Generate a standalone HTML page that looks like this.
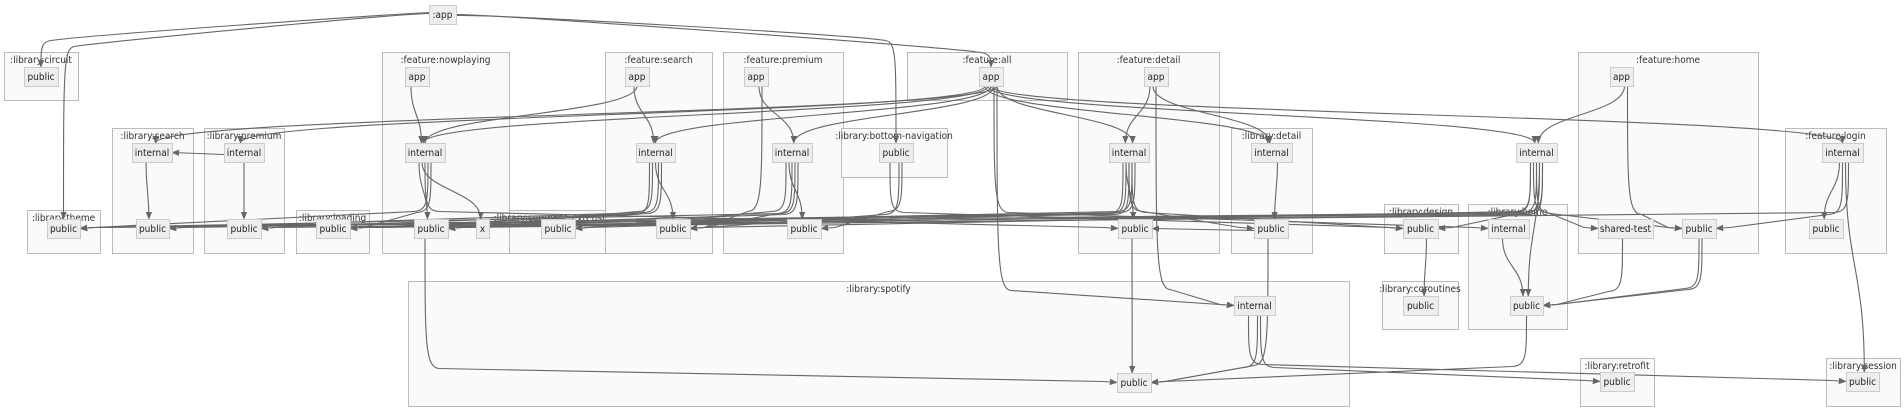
<!DOCTYPE html>
<html><head><meta charset="utf-8">
<style>
html,body{margin:0;padding:0;background:#fff;}
svg{display:block;font-family:"DejaVu Sans Condensed","Liberation Sans",sans-serif;}
.cl{fill:#fafafa;stroke:#bbb;stroke-width:1;}
.ct{font-size:10px;fill:#333;text-anchor:middle;}
.nd{fill:#eee;stroke:#ccc;stroke-width:1;}
.nt{font-size:10px;fill:#222;text-anchor:middle;dominant-baseline:central;}
.ed{fill:none;stroke:#666;stroke-width:1.1;}
</style></head>
<body>
<svg id="g" width="1904" height="411" viewBox="0 0 1904 411">
<defs><marker id="ar" viewBox="0 0 10 10" refX="9" refY="5" markerWidth="8" markerHeight="8" markerUnits="userSpaceOnUse" orient="auto-start-reverse"><path d="M0,1 L10,5 L0,9 z" fill="#666"/></marker></defs>
<g id="clusters"></g><g id="edges"></g><g id="nodes"></g>
</svg>
<script>
const clusters = [
 ["library-circuit",":library:circuit",4,52,78,100],
 ["feature-nowplaying",":feature:nowplaying",382,52,509,253],
 ["library-search",":library:search",112,128,193,253],
 ["library-premium",":library:premium",204,128,284,253],
 ["library-theme",":library:theme",27,210,100,253],
 ["library-loading",":library:loading",296,210,369,253],
 ["library-compose-extensions",":library:compose-extensions",509,210,605,253],
 ["feature-search",":feature:search",605,52,712,253],
 ["feature-premium",":feature:premium",723,52,843,253],
 ["library-bottom-navigation",":library:bottom-navigation",841,128,947,177],
 ["feature-all",":feature:all",907,52,1067,100],
 ["feature-detail",":feature:detail",1078,52,1219,253],
 ["library-detail",":library:detail",1231,128,1312,253],
 ["feature-home",":feature:home",1578,52,1758,253],
 ["feature-login",":feature:login",1785,128,1886,253],
 ["library-design",":library:design",1384,204,1458,253],
 ["library-home",":library:home",1468,204,1567,329],
 ["library-coroutines",":library:coroutines",1382,281,1458,329],
 ["library-spotify",":library:spotify",408,281,1349,406],
 ["library-retrofit",":library:retrofit",1580,358,1654,406],
 ["library-session",":library:session",1826,358,1900,406]
];
const nodes = [
 ["app",":app",429,456,5],
 ["circ","public",24,58,67],
 ["npA","app",405,429,67],["npI","internal",405,445,143],["npP","public",414,448,219],["npX","x",476,489,219],
 ["lsI","internal",132,172,143],["lsP","public",136,169,219],
 ["lpI","internal",224,264,143],["lpP","public",227,261,219],
 ["thP","public",47,80,219],["loP","public",316,350,219],["ceP","public",541,575,219],
 ["fsA","app",625,649,67],["fsI","internal",636,675,143],["fsP","public",656,690,219],
 ["fpA","app",744,768,67],["fpI","internal",772,812,143],["fpP","public",787,821,219],
 ["bnP","public",879,913,143],
 ["faA","app",979,1003,67],
 ["fdA","app",1144,1168,67],["fdI","internal",1109,1149,143],["fdP","public",1118,1152,219],
 ["ldI","internal",1251,1292,143],["ldP","public",1254,1288,219],
 ["fhA","app",1610,1633,67],["fhI","internal",1516,1557,143],["st","shared-test",1598,1653,219],["fhP","public",1682,1716,219],
 ["flI","internal",1822,1863,143],["flP","public",1809,1843,219],
 ["dsP","public",1403,1438,219],
 ["lhI","internal",1488,1529,219],["lhP","public",1510,1543,296],
 ["coP","public",1403,1438,296],
 ["spI","internal",1234,1275,296],["spP","public",1117,1151,373],
 ["rfP","public",1600,1634,372],["seP","public",1846,1879,372]
];
const edgeFrom = ["app","app","app","app",
 "faA","faA","faA","faA","faA","faA","faA","faA","faA","faA","faA",
 "fdA","fdA","fdA","fhA","fhA","npA","fsA","fsA","fpA","fpA",
 "lsI","lpI","lpI",
 "npI","npI","npI","npI","npI",
 "fsI","fsI","fsI","fsI","fsI",
 "fpI","fpI","fpI","fpI","fpI",
 "bnP","bnP","bnP",
 "fdI","fdI","fdI","fdI","fdI","fdI","fdI","fdI",
 "ldI","ldP","ldP",
 "fhI","fhI","fhI","fhI","fhI","fhI","fhI","fhI","fhI",
 "flI","flI","flI","flI",
 "lhI","st","fhP","fhP","dsP",
 "npP","fdP","lhP","spI","spI","spI"];
const edgeTo = ["circ","thP","faA","bnP",
 "lsI","lpI","npI","fsI","fpI","fdI","ldI","fhI","flI","lhI","spI",
 "fdI","ldI","spI","fhI","fhP","npI","fsI","npI","fpI","fsP",
 "lsP","lsI","lpP",
 "thP","loP","npP","npX","fdP",
 "lsP","lpP","loP","npP","fsP",
 "thP","loP","ceP","fpP","fsP",
 "fsP","fpP","dsP",
 "thP","lsP","loP","npP","ceP","fdP","ldP","dsP",
 "ldP","fdP","spP",
 "thP","lpP","npP","fsP","st","fhP","lhP","dsP","loP",
 "flP","fhP","seP","loP",
 "lhP","lhP","lhP","lhP","coP",
 "spP","spP","spP","spP","rfP","seP"];

const NS="http://www.w3.org/2000/svg";
const H=19;
function mk(tag,attrs,parent){const e=document.createElementNS(NS,tag);for(const k in attrs)e.setAttribute(k,attrs[k]);parent.appendChild(e);return e;}
const gc=document.getElementById('clusters'),ge=document.getElementById('edges'),gn=document.getElementById('nodes');
clusters.forEach(c=>{
  const g=mk('g',{},gc);
  
  
  mk('rect',{x:c[2]+.5,y:c[3]+.5,width:c[4]-c[2],height:c[5]-c[3],class:'cl'},g);
  const t=mk('text',{x:(c[2]+c[4])/2,y:c[3]+11,class:'ct'},g);t.textContent=c[1];
});
const N={};
nodes.forEach(n=>{
  N[n[0]]={x1:n[2],x2:n[3],y1:n[4],y2:n[4]+H,cx:(n[2]+n[3])/2,cy:n[4]+H/2};
  const g=mk('g',{},gn);
  
  
  mk('rect',{x:n[2]+.5,y:n[4]+.5,width:n[3]-n[2],height:H,class:'nd'},g);
  const t=mk('text',{x:(n[2]+n[3])/2,y:n[4]+H/2+1,class:'nt'},g);t.textContent=n[1];
});
edgeFrom.forEach((f,i)=>{
  const s=N[f],t=N[edgeTo[i]];
  const off=((i%5)-2)*3;
  let sx=s.cx+off, sy=s.y2, d;
  const dx=t.cx-sx;
  if(f==='app'){
    const dir=Math.sign(t.cx-s.cx), x0=dir>0?s.x2:s.x1, tx=t.cx, ty=t.y1, my=40+(i%3)*6;
    d=`M${x0},${s.cy+off/3} C${x0+dir*40},${s.cy} ${tx-dir*60},${my-6} ${tx-dir*14},${my} C${tx},${my+1} ${tx},${my+6} ${tx},${ty}`;
  } else if(t.y1<=s.y2){
    const dir=Math.sign(dx), ex=dir>0?t.x1:t.x2;
    d=`M${dir>0?s.x2:s.x1},${s.cy+2} L${ex},${t.cy}`;
  } else if(Math.abs(dx)>70 && t.y1>=200){
    const dir=Math.sign(dx), ex=dir>0?t.x1:t.x2, my=t.cy-18+(i%4);
    d=`M${sx},${sy} C${sx},${sy+(my-sy)*0.8} ${sx},${my} ${sx+dir*14},${my+1} L${ex-dir*14},${t.cy-1} L${ex},${t.cy}`;
  } else {
    const tx=t.cx+off*0.6, ty=t.y1, m=(ty-sy)*0.5;
    d=`M${sx},${sy} C${sx},${sy+m} ${tx},${ty-m} ${tx},${ty}`;
  }
  const p=mk('path',{d:d,class:'ed','marker-end':'url(#ar)'},ge);
  
  
});
</script>
</body></html>
